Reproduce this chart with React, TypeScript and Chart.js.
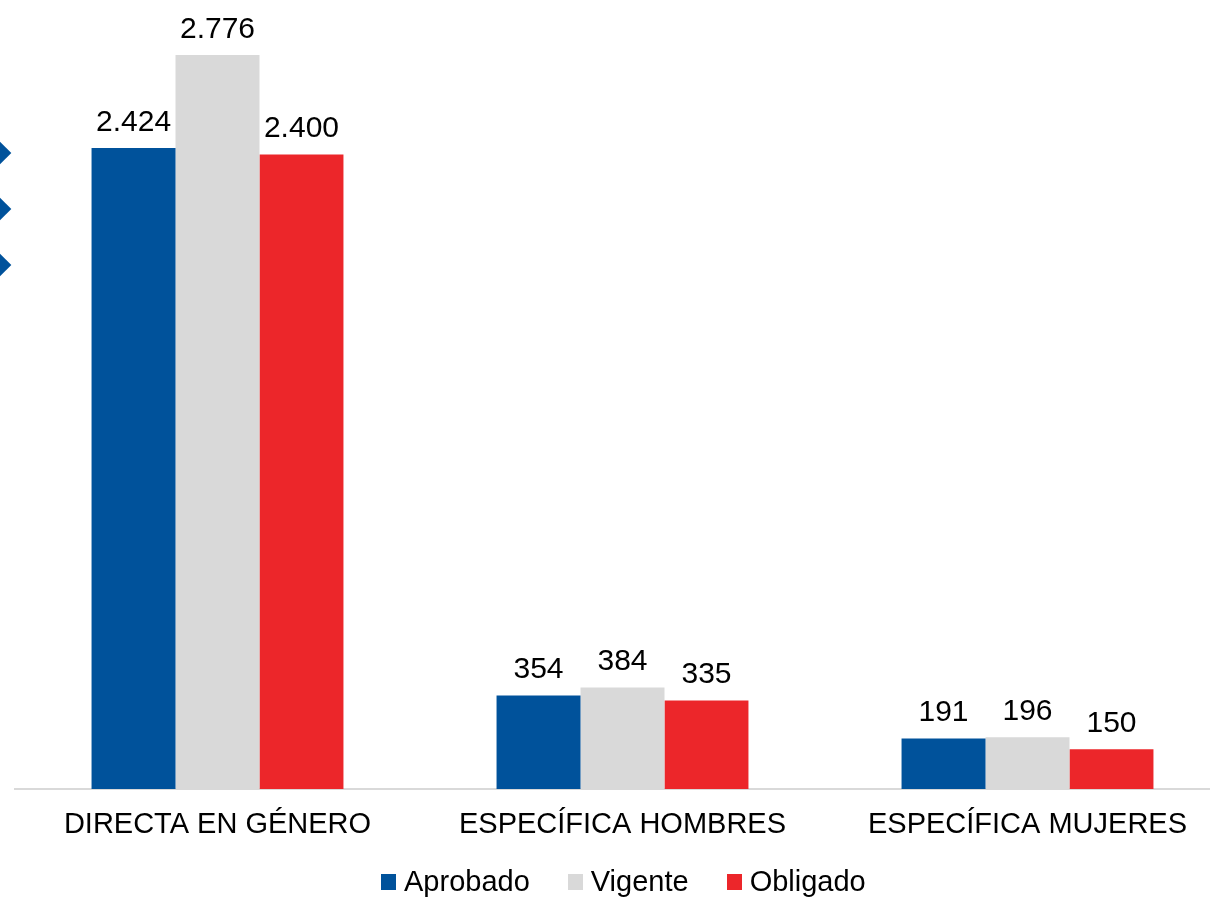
import React, { useEffect, useRef } from "react";
import { Chart, registerables } from "chart.js";

Chart.register(...registerables);

const categories = ["DIRECTA EN GÉNERO", "ESPECÍFICA HOMBRES", "ESPECÍFICA MUJERES"];
const aprobado = [2424, 354, 191];
const vigente = [2776, 384, 196];
const obligado = [2400, 335, 150];
const seriesNames = ["Aprobado", "Vigente", "Obligado"];
const seriesColors = ["#00529B", "#D9D9D9", "#EC262A"];

const FONT = "'Liberation Sans', Arial, sans-serif";

const fmt = (v: number) => {
  const s = Math.round(v).toString();
  return s.replace(/\B(?=(\d{3})+(?!\d))/g, ".");
};

const valueLabels = {
  id: "valueLabels",
  afterDatasetsDraw(chart: any) {
    const ctx = chart.ctx;
    ctx.save();
    ctx.font = `30px ${FONT}`;
    ctx.fillStyle = "#000";
    ctx.textAlign = "center";
    ctx.textBaseline = "alphabetic";
    chart.data.datasets.forEach((ds: any, i: number) => {
      const meta = chart.getDatasetMeta(i);
      meta.data.forEach((bar: any, j: number) => {
        ctx.fillText(fmt(ds.data[j]), bar.x, bar.y - 17);
      });
    });
    ctx.restore();
  },
};

export default function App() {
  const ref = useRef<HTMLCanvasElement>(null);
  useEffect(() => {
    if (!ref.current) return;
    const chart = new Chart(ref.current, {
      type: "bar",
      data: {
        labels: categories,
        datasets: [aprobado, vigente, obligado].map((d, i) => ({
          label: seriesNames[i],
          data: d,
          backgroundColor: seriesColors[i],
        })),
      },
      options: {
        animation: false,
        responsive: false,
        devicePixelRatio: 1,
        layout: { padding: { left: 15, right: 0, top: 9, bottom: 0 } },
        datasets: { bar: { categoryPercentage: 0.622, barPercentage: 1 } },
        scales: {
          x: {
            grid: { display: false, drawTicks: false },
            border: { display: true, color: "#D9D9D9", width: 2 },
            ticks: { color: "#000", font: { family: FONT, size: 29 }, padding: 19, maxRotation: 0 },
            afterFit: (scale: any) => {
              scale.height = 110;
            },
          },
          y: { display: false, min: 0, max: 2950 },
        },
        plugins: {
          legend: { display: false },
          tooltip: { enabled: false },
        },
      },
      plugins: [valueLabels],
    });
    return () => chart.destroy();
  }, []);

  const chev = (top: number) => (
    <div
      key={top}
      style={{
        position: "absolute",
        left: -8,
        top: top - 8,
        width: 16,
        height: 16,
        background: "#00529B",
        transform: "rotate(45deg)",
      }}
    />
  );

  return (
    <div style={{ position: "fixed", left: 0, top: 0, width: 1210, height: 899, overflow: "hidden", background: "#fff" }}>
      <canvas ref={ref} width={1230} height={899} style={{ position: "absolute", left: 0, top: 0 }} />
      {[153, 209, 265].map(chev)}
      <div
        style={{
          position: "absolute",
          left: 381,
          top: 867,
          height: 29,
          display: "flex",
          alignItems: "center",
          fontFamily: FONT,
          fontSize: 29,
          lineHeight: 1,
          color: "#000",
          whiteSpace: "nowrap",
        }}
      >
        {seriesNames.map((n, i) => (
          <div key={n} style={{ display: "flex", alignItems: "center", marginRight: 38 }}>
            <div style={{ width: 15, height: 16, background: seriesColors[i], marginRight: 8 }} />
            <span>{n}</span>
          </div>
        ))}
      </div>
    </div>
  );
}
